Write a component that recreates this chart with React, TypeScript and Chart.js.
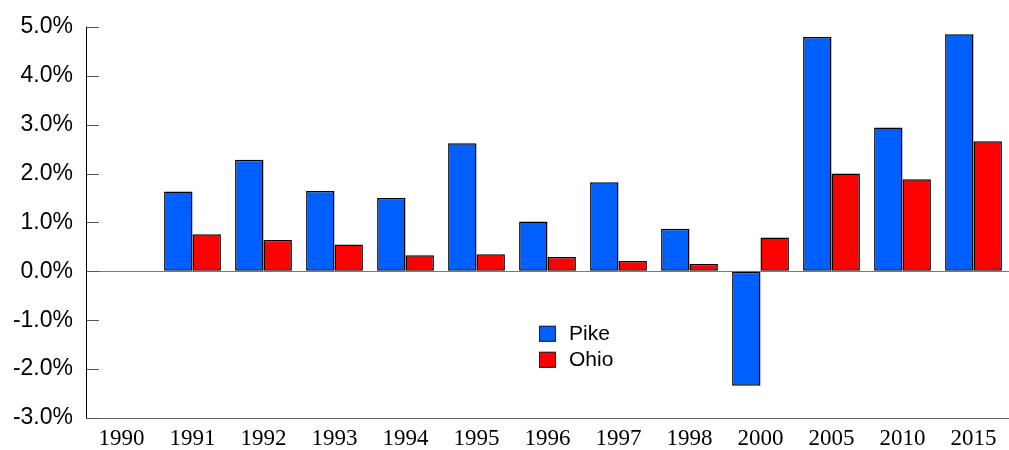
import React, { useEffect, useRef } from "react";
import { Chart, registerables } from "chart.js";

Chart.register(...registerables);

const categories = ["1990", "1991", "1992", "1993", "1994", "1995", "1996", "1997", "1998", "2000", "2005", "2010", "2015"];
const pikeValues = [null, 1.63, 2.28, 1.64, 1.5, 2.62, 1.02, 1.82, 0.87, -2.34, 4.79, 2.94, 4.85];
const ohioValues = [null, 0.76, 0.64, 0.55, 0.33, 0.35, 0.29, 0.21, 0.15, 0.69, 2.0, 1.88, 2.66];
const yTicks = [-3, -2, -1, 0, 1, 2, 3, 4, 5];

const innerTicksPlugin = {
  id: "innerTicks",
  afterDraw(chart: any) {
    const { ctx, chartArea } = chart;
    const y = chart.scales.y;
    ctx.save();
    ctx.strokeStyle = "#555";
    ctx.lineWidth = 1;
    yTicks.forEach((v) => {
      const py = Math.round(y.getPixelForValue(v)) + 0.5;
      ctx.beginPath();
      ctx.moveTo(chartArea.left, py);
      ctx.lineTo(chartArea.left + 13, py);
      ctx.stroke();
    });
    ctx.strokeStyle = "#000";
    ctx.beginPath();
    ctx.moveTo(chartArea.left + 0.5, chartArea.top);
    ctx.lineTo(chartArea.left + 0.5, chartArea.bottom);
    ctx.stroke();
    ctx.restore();
  },
};

const innerLegendPlugin = {
  id: "innerLegend",
  afterDraw(chart: any) {
    const { ctx, chartArea } = chart;
    const x0 = chartArea.left + 453;
    const y0 = chartArea.top + 299;
    ctx.save();
    chart.data.datasets.forEach((ds: any, i: number) => {
      const by = y0 + i * 26;
      ctx.fillStyle = ds.backgroundColor;
      ctx.fillRect(x0, by, 17, 16);
      ctx.strokeStyle = "#222";
      ctx.lineWidth = 1;
      ctx.strokeRect(x0 + 0.5, by + 0.5, 16, 15);
      ctx.fillStyle = "#000";
      ctx.font = "21px 'Liberation Sans', Arial, sans-serif";
      ctx.textBaseline = "middle";
      ctx.textAlign = "left";
      ctx.fillText(ds.label, x0 + 30, by + 8.5);
    });
    ctx.restore();
  },
};

export default function App() {
  const ref = useRef<HTMLCanvasElement>(null);
  useEffect(() => {
    if (!ref.current) return;
    const chart = new Chart(ref.current, {
      type: "bar",
      data: {
        labels: categories,
        datasets: [
          {
            label: "Pike",
            data: pikeValues as any,
            backgroundColor: "#005FFF",
            borderColor: "#000",
            borderWidth: 1.5,
            borderSkipped: false,
            categoryPercentage: 0.8,
            barPercentage: 1.0,
          },
          {
            label: "Ohio",
            data: ohioValues as any,
            backgroundColor: "#FF0000",
            borderColor: "#000",
            borderWidth: 1.5,
            borderSkipped: false,
            categoryPercentage: 0.8,
            barPercentage: 1.0,
          },
        ],
      },
      options: {
        animation: false,
        responsive: false,
        maintainAspectRatio: false,
        layout: { padding: { top: 20, right: 0, left: 0, bottom: 0 } },
        plugins: {
          legend: { display: false },
          tooltip: { enabled: false },
          title: { display: false },
        },
        scales: {
          x: {
            grid: { display: false, drawTicks: false },
            border: { display: true, color: "#666", width: 1 },
            ticks: {
              color: "#000",
              font: { family: "'Liberation Serif', 'Times New Roman', serif", size: 23 },
              padding: 7,
              maxRotation: 0,
              autoSkip: false,
            },
            afterFit(scale: any) {
              scale.height = 32;
            },
          },
          y: {
            min: -3,
            max: 5,
            afterBuildTicks(scale: any) {
              scale.ticks = yTicks.map((v) => ({ value: v }));
            },
            grid: {
              drawTicks: false,
              color: (c: any) => (c.tick && c.tick.value === 0 ? "#777" : "rgba(0,0,0,0)"),
              lineWidth: 1,
            },
            border: { display: false },
            ticks: {
              color: "#000",
              font: { family: "'Liberation Sans', Arial, sans-serif", size: 23 },
              padding: 13,
              callback: (v: any) => Number(v).toFixed(1) + "%",
            },
            afterFit(scale: any) {
              scale.width = 86;
            },
          },
        },
      },
      plugins: [innerTicksPlugin, innerLegendPlugin],
    });
    return () => chart.destroy();
  }, []);
  return (
    <div style={{ position: "fixed", left: 0, top: 0, width: 1009, height: 450, background: "#fff" }}>
      <canvas ref={ref} width={1009} height={450} style={{ width: 1009, height: 450 }} />
    </div>
  );
}
